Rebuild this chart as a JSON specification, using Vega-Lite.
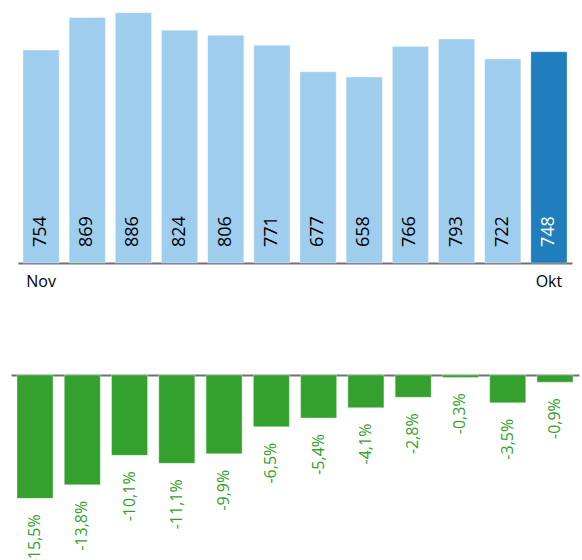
{
  "$schema": "https://vega.github.io/schema/vega-lite/v6.json",
  "padding": 0,
  "spacing": 85,
  "config": {
    "view": {"stroke": null},
    "font": "Open Sans",
    "locale": {"number": {"decimal": ",", "thousands": ".", "grouping": [3], "currency": ["", " €"], "minus": "-"}}
  },
  "datasets": {
    "d": [
      {"m": "Nov", "v": 754, "p": -0.155, "last": false},
      {"m": "Dez", "v": 869, "p": -0.138, "last": false},
      {"m": "Jan", "v": 886, "p": -0.101, "last": false},
      {"m": "Feb", "v": 824, "p": -0.111, "last": false},
      {"m": "Mär", "v": 806, "p": -0.099, "last": false},
      {"m": "Apr", "v": 771, "p": -0.065, "last": false},
      {"m": "Mai", "v": 677, "p": -0.054, "last": false},
      {"m": "Jun", "v": 658, "p": -0.041, "last": false},
      {"m": "Jul", "v": 766, "p": -0.028, "last": false},
      {"m": "Aug", "v": 793, "p": -0.003, "last": false},
      {"m": "Sep", "v": 722, "p": -0.035, "last": false},
      {"m": "Okt", "v": 748, "p": -0.009, "last": true}
    ]
  },
  "vconcat": [
    {
      "width": 582,
      "height": 263,
      "data": {"name": "d"},
      "layer": [
        {
          "mark": {"type": "bar", "stroke": "#ffffff", "strokeOpacity": 0.35, "strokeWidth": 1},
          "encoding": {
            "x": {
              "field": "m", "type": "ordinal", "sort": null,
              "scale": {"range": [18, 572], "paddingInner": 0.2165, "paddingOuter": 0.108},
              "axis": {
                "title": null,
                "labelExpr": "datum.value == 'Nov' || datum.value == 'Okt' ? datum.value : ''",
                "ticks": false, "tickSize": 0, "labelPadding": 10,
                "labelFontSize": 16, "labelColor": "#000000", "labelFont": "Open Sans",
                "labelAngle": 0, "domainColor": "#707070", "domainWidth": 2
              }
            },
            "y": {"field": "v", "type": "quantitative", "scale": {"domain": [0, 931], "nice": false}, "axis": null},
            "color": {"condition": {"test": "datum.last", "value": "#1f7ebb"}, "value": "#9ecdee"}
          }
        },
        {
          "mark": {"type": "text", "angle": -90, "align": "left", "baseline": "middle", "dx": 16, "fontSize": 18, "font": "Open Sans"},
          "encoding": {
            "x": {"field": "m", "type": "ordinal", "sort": null},
            "y": {"datum": 0},
            "text": {"field": "v", "type": "quantitative"},
            "color": {"condition": {"test": "datum.last", "value": "#ffffff"}, "value": "#000000"}
          }
        }
      ]
    },
    {
      "width": 582,
      "height": 187,
      "data": {"name": "d"},
      "layer": [
        {
          "mark": {"type": "bar", "color": "#34a02d", "stroke": "#ffffff", "strokeOpacity": 0.35, "strokeWidth": 1},
          "encoding": {
            "x": {
              "field": "m", "type": "ordinal", "sort": null,
              "scale": {"range": [11, 579], "paddingInner": 0.238, "paddingOuter": 0.127},
              "axis": {
                "orient": "top", "title": null, "labels": false, "ticks": false, "tickSize": 0,
                "domainColor": "#707070", "domainWidth": 2
              }
            },
            "y": {"field": "p", "type": "quantitative", "scale": {"domain": [-0.235, 0], "nice": false}, "axis": null}
          }
        },
        {
          "mark": {"type": "text", "angle": -90, "align": "right", "baseline": "middle", "dx": -16, "fontSize": 16, "font": "Open Sans", "color": "#34a02d"},
          "encoding": {
            "x": {"field": "m", "type": "ordinal", "sort": null},
            "y": {"field": "p", "type": "quantitative"},
            "text": {"field": "p", "type": "quantitative", "format": ".1%"}
          }
        }
      ]
    }
  ]
}
